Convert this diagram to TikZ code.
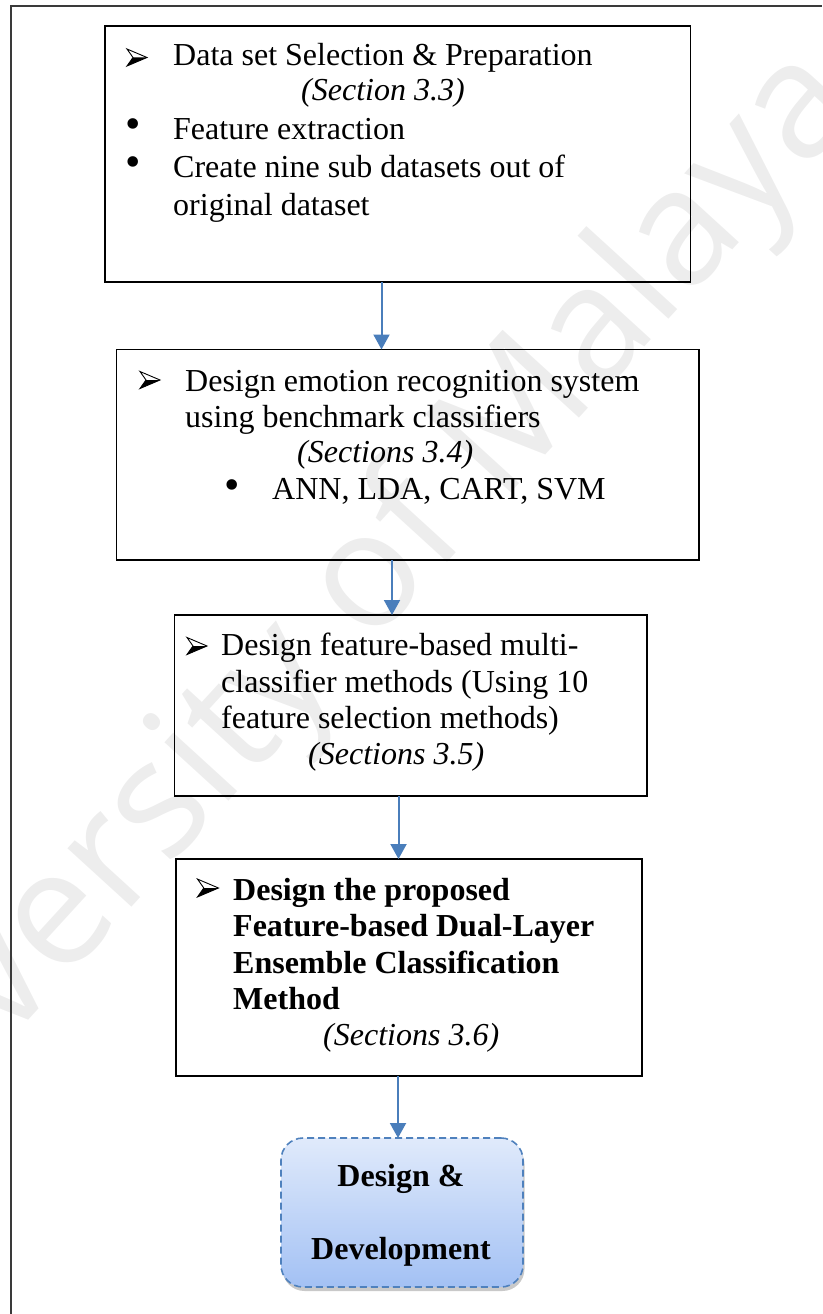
\documentclass[tikz,border=0pt]{standalone}
\usepackage{fontspec}
\setmainfont{Liberation Serif}
\newfontfamily\wmfont{Open Sans}
\usetikzlibrary{arrows.meta,shadows}

\definecolor{flowblue}{HTML}{4A7EBB}
\definecolor{termtop}{HTML}{E0EAFB}
\definecolor{termbot}{HTML}{A3C1F4}
\definecolor{termedge}{HTML}{4F81BD}
\definecolor{wmgray}{HTML}{EDEDED}
\definecolor{framegray}{HTML}{3A3A3A}

\newcommand{\bodyfont}{\fontsize{32}{38}\selectfont}

\begin{document}
\begin{tikzpicture}[x=1pt,y=-1pt,
  stagebox/.style={draw=black, line width=1.8pt, inner sep=0pt, outer sep=0pt},
  termbox/.style={draw=termedge, dash pattern=on 7pt off 4pt, line width=1.6pt,
    rounded corners=22pt, top color=termtop, bottom color=termbot,
    inner sep=0pt, outer sep=0pt,
    drop shadow={shadow xshift=1.5pt, shadow yshift=-4pt, opacity=0.3, fill=black!70}},
  flow/.style={draw=flowblue, line width=2pt, -{Triangle[width=16pt,length=15pt]}},
  line/.style={anchor=base west, inner sep=0pt, font=\bodyfont},
  iline/.style={anchor=base west, inner sep=0pt, font=\bodyfont\itshape},
  bline/.style={anchor=base west, inner sep=0pt, font=\bodyfont\bfseries},
  cline/.style={anchor=base, inner sep=0pt, font=\bodyfont\bfseries},
  dot/.style={anchor=center, inner sep=0pt, font=\fontsize{44}{44}\selectfont},
  arrowbullet/.pic={
    \draw[line width=0.9pt, line join=miter, fill=white]
      (-10,-8.5) -- (10,0) -- (-10,8.5) -- (-4,0) -- cycle;
    \fill (-4,0) -- (10,0) -- (-10,8.5) -- cycle;
  }
]
\useasboundingbox (0,0) rectangle (822,1314);

% background watermark
\node[rotate=47.6, font=\wmfont\fontsize{162}{162}\selectfont, text=wmgray, inner sep=0pt]
  (wm) at (317,642) {University of Malaya};

% page frame
\draw[framegray, line width=2pt] (10.5,1314) -- (10.5,6) -- (822,6);

% stage boxes
\node[stagebox, minimum width=585.5pt, minimum height=256pt]   (b1) at (397.75,154) {};
\node[stagebox, minimum width=582.5pt, minimum height=210.5pt] (b2) at (407.75,454.75) {};
\node[stagebox, minimum width=472.5pt, minimum height=181pt]   (b3) at (410.75,705.5) {};
\node[stagebox, minimum width=466pt,   minimum height=217pt]   (b4) at (409,967.5) {};
\node[termbox,  minimum width=242pt,   minimum height=149pt]   (b5) at (402,1212.5) {};

% stage 1
\pic (m1) at (137,57.5) {arrowbullet};
\node[line]  (t1a) at (173,66)  {Data set Selection \& Preparation};
\node[iline] (t1b) at (301,100) {(Section 3.3)};
\node[dot]   (d1c) at (133,129) {•};
\node[line]  (t1c) at (173,139) {Feature extraction};
\node[dot]   (d1d) at (133,167) {•};
\node[line]  (t1d) at (173,177) {Create nine sub datasets out of};
\node[line]  (t1e) at (173,215) {original dataset};

% stage 2
\pic (m2) at (150,380) {arrowbullet};
\node[line]  (t2a) at (185,391) {Design emotion recognition system};
\node[line]  (t2b) at (185,427) {using benchmark classifiers};
\node[iline] (t2c) at (297,462) {(Sections 3.4)};
\node[dot]   (d2d) at (232,490) {•};
\node[line]  (t2d) at (272,499) {ANN, LDA, CART, SVM};

% stage 3
\pic (m3) at (197,646) {arrowbullet};
\node[line]  (t3a) at (221,655) {Design feature-based multi-};
\node[line]  (t3b) at (221,692) {classifier methods (Using 10};
\node[line]  (t3c) at (221,728) {feature selection methods)};
\node[iline] (t3d) at (308,764) {(Sections 3.5)};

% stage 4
\pic[scale=1.05] (m4) at (208,888) {arrowbullet};
\node[bline] (t4a) at (233,900)  {Design the proposed};
\node[bline] (t4b) at (233,936)  {Feature-based Dual-Layer};
\node[bline] (t4c) at (233,973)  {Ensemble Classification};
\node[bline] (t4d) at (233,1009) {Method};
\node[iline] (t4e) at (323,1045) {(Sections 3.6)};

% terminal
\node[cline] (t5a) at (401,1186) {Design \&};
\node[cline] (t5b) at (401,1259) {Development};

% connectors
\coordinate (c1) at (381.5,0);
\coordinate (c2) at (392,0);
\coordinate (c3) at (398.5,0);
\coordinate (c4) at (398,0);
\draw[flow] (b1.south -| c1) -- (b2.north -| c1);
\draw[flow] (b2.south -| c2) -- (b3.north -| c2);
\draw[flow] (b3.south -| c3) -- (b4.north -| c3);
\draw[flow] (b4.south -| c4) -- (b5.north -| c4);
\end{tikzpicture}
\end{document}
